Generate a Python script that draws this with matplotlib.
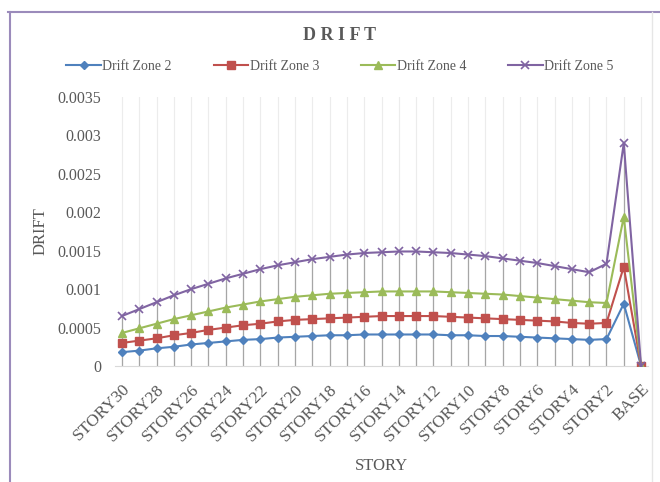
import matplotlib
matplotlib.use("Agg")
import matplotlib.pyplot as plt
from matplotlib.lines import Line2D
import numpy as np

stories = [f"STORY{i}" for i in range(30, 0, -1)] + ["BASE"]

zone2 = [0.00018, 0.00020, 0.00023, 0.00025, 0.00028, 0.00030, 0.00032, 0.00034, 0.00035, 0.00037,
         0.00038, 0.00039, 0.00040, 0.00040, 0.00041, 0.00041, 0.00041, 0.00041, 0.00041, 0.00040,
         0.00040, 0.00039, 0.00039, 0.00038, 0.00037, 0.00036, 0.00035, 0.00034, 0.00035, 0.00081, 0.0]
zone3 = [0.00030, 0.00033, 0.00036, 0.00040, 0.00043, 0.00047, 0.00050, 0.00053, 0.00055, 0.00058,
         0.00060, 0.00061, 0.00062, 0.00063, 0.00064, 0.00065, 0.00065, 0.00065, 0.00065, 0.00064,
         0.00063, 0.00062, 0.00061, 0.00060, 0.00059, 0.00058, 0.00056, 0.00055, 0.00056, 0.00129, 0.0]
zone4 = [0.00043, 0.00049, 0.00055, 0.00061, 0.00066, 0.00071, 0.00076, 0.00080, 0.00084, 0.00087,
         0.00090, 0.00092, 0.00094, 0.00095, 0.00096, 0.00097, 0.00097, 0.00097, 0.00097, 0.00096,
         0.00095, 0.00094, 0.00093, 0.00091, 0.00089, 0.00087, 0.00085, 0.00083, 0.00082, 0.00194, 0.0]
zone5 = [0.00065, 0.00074, 0.00083, 0.00092, 0.00100, 0.00107, 0.00114, 0.00120, 0.00126, 0.00131,
         0.00135, 0.00139, 0.00142, 0.00145, 0.00147, 0.00148, 0.00149, 0.00149, 0.00148, 0.00147,
         0.00145, 0.00143, 0.00140, 0.00137, 0.00134, 0.00130, 0.00126, 0.00122, 0.00133, 0.00290, 0.0]

series = [
    ("Drift Zone 2", zone2, "#4F81BD", "D", 4.5),
    ("Drift Zone 3", zone3, "#C0504D", "s", 6),
    ("Drift Zone 4", zone4, "#9BBB59", "^", 6),
    ("Drift Zone 5", zone5, "#8064A2", "x", 6),
]
yticks = [0, 0.0005, 0.001, 0.0015, 0.002, 0.0025, 0.003, 0.0035]
ytick_labels = ["0", "0.0005", "0.001", "0.0015", "0.002", "0.0025", "0.003", "0.0035"]

plt.rcParams['font.family'] = ['Liberation Serif', 'DejaVu Serif']

W, H = 660, 482
fig = plt.figure(figsize=(W / 100, H / 100), dpi=100)

# figure frame
fig.add_artist(Line2D([10 / W, 10 / W], [0, 1 - 12 / H], transform=fig.transFigure, color="#9b8bbb", lw=1.5))
fig.add_artist(Line2D([8 / W, 1], [1 - 12 / H, 1 - 12 / H], transform=fig.transFigure, color="#9b8bbb", lw=1.5))
fig.add_artist(Line2D([652 / W, 652 / W], [0, 1 - 12 / H], transform=fig.transFigure, color="#e6e6e6", lw=1))

left_px, right_px = 115, 648
top_px, bot_px = 97, 366
ax = fig.add_axes([left_px / W, 1 - bot_px / H, (right_px - left_px) / W, (bot_px - top_px) / H])

x = np.arange(len(stories))
# vertical gridlines
for xi in x:
    ax.axvline(xi, color="#ececec", lw=0.8, zorder=0)
# drop lines
tops = np.max(np.array([zone2, zone3, zone4, zone5]), axis=0)
ax.vlines(x, 0, tops, color="#a6a6a6", lw=0.9, zorder=1)

for name, vals, col, mk, ms in series:
    if mk == "x":
        ax.plot(x, vals, color=col, lw=1.5, marker=mk, ms=ms, mew=1.2, label=name, zorder=3)
    else:
        ax.plot(x, vals, color=col, lw=1.5, marker=mk, ms=ms, mec=col, mfc=col, label=name, zorder=3)

ax.set_xlim(-0.4, 30.4)
ax.set_ylim(0, 0.0035)
ax.set_yticks(yticks)
ax.set_yticklabels(ytick_labels, fontsize=11.5, color="#595959")
ax.set_xticks(x[::2])
ax.set_xticklabels(stories[::2], rotation=45, ha="right", rotation_mode="anchor",
                   fontsize=12.5, color="#595959")
ax.tick_params(axis="y", length=0, pad=10)
ax.tick_params(axis="x", length=0, pad=11)
for s in ["top", "right", "left"]:
    ax.spines[s].set_visible(False)
ax.spines["bottom"].set_color("#d9d9d9")

ax.set_ylabel("DRIFT", fontsize=12, color="#595959", labelpad=6)
ax.set_xlabel("STORY", fontsize=12, color="#595959", labelpad=10)

fig.text(0.515, 1 - 35 / H, "D R I F T", ha="center", va="center", fontsize=13,
         fontweight="bold", color="#595959")

leg = fig.legend(loc="center", bbox_to_anchor=(0.515, 1 - 66 / H), ncol=4, frameon=False,
                 fontsize=10, handlelength=2.5, columnspacing=3.0, handletextpad=0.1)
for t in leg.get_texts():
    t.set_color("#595959")

fig.savefig("out.png", dpi=100)
